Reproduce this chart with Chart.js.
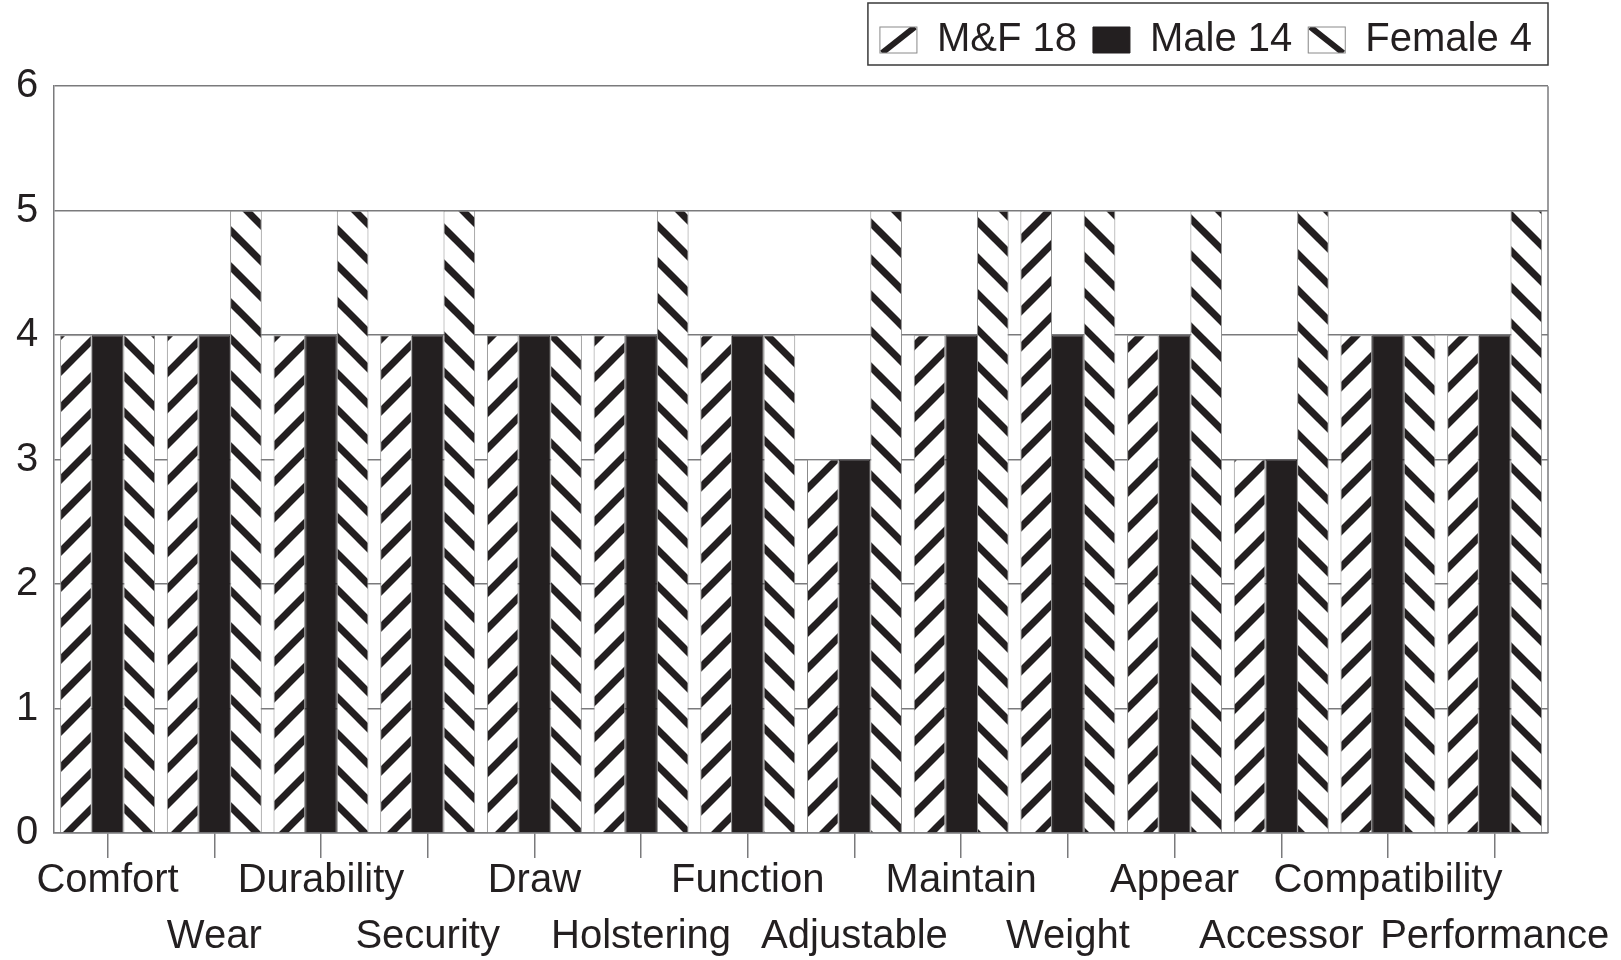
<!DOCTYPE html>
<html>
<head>
<meta charset="utf-8">
<script src="https://cdn.jsdelivr.net/npm/chart.js@4"></script>
<style>
  html, body { margin: 0; padding: 0; background: #fff; }
  #wrap { width: 1621px; height: 960px; }
</style>
</head>
<body>
<div id="wrap"><canvas id="chart"></canvas></div>
<script>
// data
const categories = ['Comfort', 'Wear', 'Durability', 'Security', 'Draw', 'Holstering', 'Function',
  'Adjustable', 'Maintain', 'Weight', 'Appear', 'Accessor', 'Compatibility', 'Performance'];
const mf18 =     [4, 4, 4, 4, 4, 4, 4, 3, 4, 5, 4, 3, 4, 4];
const male14 =   [4, 4, 4, 4, 4, 4, 4, 3, 4, 4, 4, 3, 4, 4];
const female4 =  [4, 5, 5, 5, 4, 5, 4, 5, 5, 5, 5, 5, 4, 5];
const yTicks = [0, 1, 2, 3, 4, 5, 6];

const ink = '#231f20';
const grey = '#7a7a7c';
const font = "'Liberation Sans', Arial, Helvetica, sans-serif";
const hatchDir = [1, 0, -1];

// diagonal hatch fill, dir 1 = "/", dir -1 = "\"
function hatch(dir) {
  const s = 36;
  const c = document.createElement('canvas');
  c.width = s; c.height = s;
  const g = c.getContext('2d');
  g.fillStyle = '#fff';
  g.fillRect(0, 0, s, s);
  g.strokeStyle = ink;
  g.lineWidth = 7;
  for (const k of [-s, 0, s]) {
    g.beginPath();
    if (dir > 0) { g.moveTo(k - s, 2 * s); g.lineTo(k + 2 * s, -s); }
    else { g.moveTo(k - s, -s); g.lineTo(k + 2 * s, 2 * s); }
    g.stroke();
  }
  return g.createPattern(c, 'repeat');
}

// frame round the plot and the legend, plus one-stripe legend swatches
const frames = {
  id: 'frames',
  afterDraw(chart) {
    const ctx = chart.ctx;
    const a = chart.chartArea;
    ctx.save();
    ctx.strokeStyle = grey;
    ctx.lineWidth = 1.5;
    ctx.beginPath();
    ctx.moveTo(a.right, a.top);
    ctx.lineTo(a.right, a.bottom);
    ctx.stroke();

    const lg = chart.legend;
    const lab = lg.options.labels;
    lg.legendHitBoxes.forEach((hb, i) => {
      const dir = hatchDir[i];
      if (!dir) return;
      const x = hb.left, y = hb.top + (hb.height - lab.boxHeight) / 2;
      const w = lab.boxWidth, h = lab.boxHeight;
      ctx.save();
      ctx.fillStyle = '#fff';
      ctx.fillRect(x - 1, y - 1, w + 2, h + 2);
      ctx.beginPath();
      ctx.rect(x, y, w, h);
      ctx.clip();
      ctx.strokeStyle = ink;
      ctx.lineWidth = 6;
      ctx.beginPath();
      if (dir > 0) { ctx.moveTo(x + 2, y + h); ctx.lineTo(x + w - 2, y); }
      else { ctx.moveTo(x + 2, y); ctx.lineTo(x + w - 2, y + h); }
      ctx.stroke();
      ctx.restore();
      ctx.strokeStyle = '#8a8a8a';
      ctx.lineWidth = 1;
      ctx.strokeRect(x, y, w, h);
    });

    const left = lg.right - lg.lineWidths[0] - 12;
    const top = lg.top + lab.padding - 17;
    ctx.strokeStyle = '#3a3a3a';
    ctx.lineWidth = 1.5;
    ctx.strokeRect(left, top, lg.right - left, 62);
    ctx.restore();
  }
};

const ctx = document.getElementById('chart').getContext('2d');
const chart = new Chart(ctx, {
  type: 'bar',
  data: {
    labels: categories,
    datasets: [{
      label: 'M&F 18',
      data: mf18,
      backgroundColor: hatch(1),
      borderColor: '#8a8a8a',
      borderWidth: 1
    }, {
      label: 'Male 14',
      data: male14,
      backgroundColor: ink,
      borderColor: ink,
      borderWidth: 1
    }, {
      label: 'Female 4',
      data: female4,
      backgroundColor: hatch(-1),
      borderColor: '#8a8a8a',
      borderWidth: 1
    }]
  },
  options: {
    responsive: true,
    maintainAspectRatio: false,
    animation: false,
    categoryPercentage: 0.89,
    barPercentage: 1.0,
    layout: { padding: { left: 0, right: 73, top: 4, bottom: 0 } },
    plugins: {
      tooltip: { enabled: false },
      legend: {
        position: 'top',
        align: 'end',
        fullSize: false,
        labels: {
          color: ink,
          font: { family: font, size: 40 },
          boxWidth: 37,
          boxHeight: 26,
          padding: 16
        }
      },
      // empty spacer between legend and plot
      subtitle: {
        display: true,
        text: '',
        weight: 500,
        font: { size: 1 },
        padding: { top: 0, bottom: 15 }
      }
    },
    scales: {
      x: {
        grid: {
          offset: false,
          drawOnChartArea: false,
          drawTicks: true,
          tickLength: 25,
          color: grey,
          lineWidth: 1.5
        },
        border: { color: grey, width: 1.5 },
        ticks: {
          autoSkip: false,
          maxRotation: 0,
          padding: -5,
          color: ink,
          font: { family: font, size: 40, lineHeight: 1.4 },
          callback: function (v, i) {
            const name = categories[i];
            return i % 2 === 0 ? [name, ''] : ['', name];
          }
        }
      },
      y: {
        min: 0,
        max: 6,
        afterBuildTicks: function (axis) {
          axis.ticks = yTicks.map(v => ({ value: v }));
        },
        grid: { color: grey, lineWidth: 1.5, drawTicks: false },
        border: { color: grey, width: 1.5 },
        ticks: {
          padding: 16,
          color: ink,
          font: { family: font, size: 40 }
        }
      }
    }
  },
  plugins: [frames]
});
</script>
</body>
</html>
